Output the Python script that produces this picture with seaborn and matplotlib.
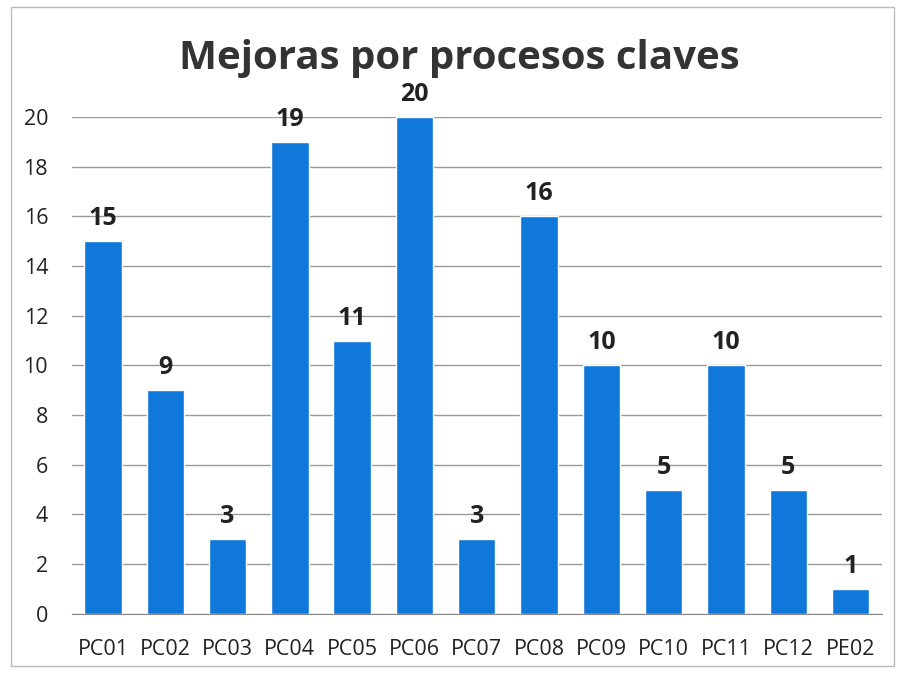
import numpy as np
import pandas as pd
import matplotlib
matplotlib.use("Agg")
import matplotlib.pyplot as plt
import seaborn as sns

procesos = ["PC01", "PC02", "PC03", "PC04", "PC05", "PC06", "PC07",
            "PC08", "PC09", "PC10", "PC11", "PC12", "PE02"]
mejoras = [15, 9, 3, 19, 11, 20, 3, 16, 10, 5, 10, 5, 1]
y_ticks = [0, 2, 4, 6, 8, 10, 12, 14, 16, 18, 20]

sns.set_style("white")
plt.rcParams['font.family'] = ['Open Sans', 'DejaVu Sans']

df = pd.DataFrame({"Proceso": procesos, "Mejoras": mejoras})

fig = plt.figure(figsize=(8.97, 6.76), dpi=100)
ax = fig.add_axes([0.080, 0.092, 0.903, 0.735])

sns.barplot(data=df, x="Proceso", y="Mejoras", color="#0F78DA",
            saturation=1, width=0.6, ax=ax, zorder=3)

ax.set_ylim(0, 20)
ax.set_xlim(-0.5, len(procesos) - 0.5)
ax.set_yticks(y_ticks)
ax.grid(axis='y', color='#9a9a9a', lw=1, zorder=0)
ax.set_axisbelow(True)
for s in ["left", "top", "right"]:
    ax.spines[s].set_visible(False)
ax.spines["bottom"].set_color("#8a8a8a")
ax.spines["bottom"].set_zorder(4)

ax.tick_params(axis='y', length=0, labelsize=15.5, pad=17, labelcolor='#222222')
ax.tick_params(axis='x', which='major', length=0, labelsize=15.5, pad=18,
               labelcolor='#222222')
ax.set_xticks(np.arange(-0.5, len(procesos)), minor=True)
ax.tick_params(axis='x', which='minor', length=8, color='#8a8a8a', width=1)
ax.set_xlabel("")
ax.set_ylabel("")

for i, v in enumerate(mejoras):
    ax.text(i, v + 0.4, str(v), ha='center', va='bottom',
            fontsize=18, fontweight='bold', color='#222222')

fig.text(0.512, 0.913, "Mejoras por procesos claves", ha='center', va='center',
         fontsize=29, fontweight='bold', color='#333333')

fig.patches.append(plt.Rectangle((0.012, 0.015), 0.985, 0.975,
                                 transform=fig.transFigure, fill=False,
                                 edgecolor='#bbbbbb', lw=1))

plt.savefig("out.png", dpi=100)
